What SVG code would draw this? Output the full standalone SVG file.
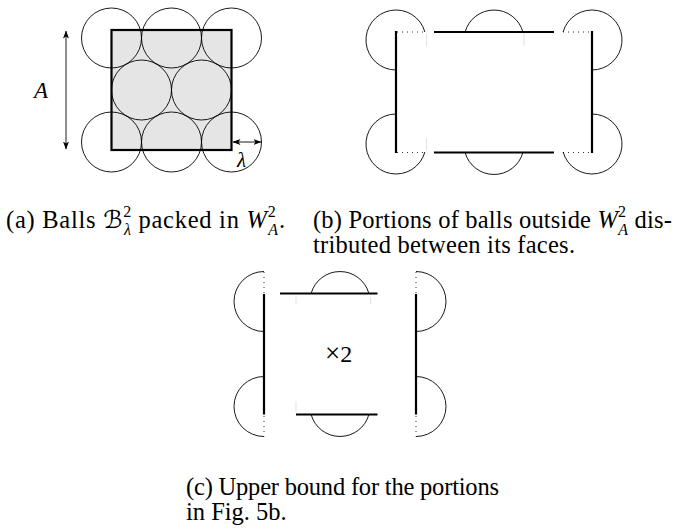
<svg xmlns="http://www.w3.org/2000/svg" width="674" height="529" viewBox="0 0 674 529">
<style>
.c{fill:none;stroke:#000;stroke-width:0.9}
.t{fill:none;stroke:#000;stroke-width:2.2}
.d{fill:none;stroke:#000;stroke-width:0.8;stroke-dasharray:1 4}
.f{fill:none;stroke:#d6d6d6;stroke-width:0.7}
.a{fill:none;stroke:#000;stroke-width:0.9}
.cap{font-family:"Liberation Serif",serif;font-size:24.5px;fill:#000}
.mi{font-family:"Liberation Serif",serif;font-style:italic}
.cal{font-family:"DejaVu Serif","DejaVu Sans",serif;font-style:normal}
.sc{font-size:16px}
</style>
<defs>
<marker id="ah" viewBox="0 0 8 6" refX="7.5" refY="3" markerWidth="8" markerHeight="6" markerUnits="userSpaceOnUse" orient="auto-start-reverse">
<path d="M0,0 L8,3 L0,6 L2,3 Z" fill="#000"/>
</marker>
</defs>

<g id="panel-a">
<rect x="111.5" y="30" width="120" height="120" fill="#e5e5e5"/>
<circle class="c" cx="111.5" cy="38" r="30"/>
<circle class="c" cx="171.5" cy="38" r="30"/>
<circle class="c" cx="231.5" cy="38" r="30"/>
<circle class="c" cx="141.5" cy="90" r="30"/>
<circle class="c" cx="201.5" cy="90" r="30"/>
<circle class="c" cx="111.5" cy="142" r="30"/>
<circle class="c" cx="171.5" cy="142" r="30"/>
<circle class="c" cx="231.5" cy="142" r="30"/>
<rect class="t" x="111.5" y="30" width="120" height="120"/>
<text x="34" y="98" class="mi" font-size="23">A</text>
<text x="237" y="167" class="mi" font-size="21">λ</text>
</g>

<g id="panel-b">
<line class="t" x1="396" y1="31" x2="396" y2="153"/>
<line class="t" x1="592" y1="31" x2="592" y2="153"/>
<line class="t" x1="434" y1="32" x2="554" y2="32"/>
<line class="t" x1="434" y1="152.5" x2="554" y2="152.5"/>
<line class="d" x1="397" y1="32" x2="425" y2="32"/>
<line class="d" x1="563" y1="32" x2="591" y2="32"/>
<line class="d" x1="397" y1="152.5" x2="425" y2="152.5"/>
<line class="d" x1="563" y1="152.5" x2="591" y2="152.5"/>
<path class="c" d="M396,70 A30,30 0 1 1 424.9,32"/>
<path class="c" d="M396,114 A30,30 0 1 0 424.9,152"/>
<path class="c" d="M563.1,32 A30,30 0 1 1 592,70"/>
<path class="c" d="M592,114 A30,30 0 1 1 563.1,152"/>
<path class="c" d="M465.1,32 A30,30 0 0 1 522.9,32"/>
<path class="c" d="M465.1,152.5 A30,30 0 0 0 522.9,152.5"/>
<line class="f" x1="426.5" y1="33" x2="426.5" y2="47"/>
<line class="f" x1="524" y1="33" x2="524" y2="46"/>
<line class="f" x1="426.5" y1="138" x2="426.5" y2="151"/>
</g>

<g id="panel-c">
<line class="t" x1="264" y1="294" x2="264" y2="414.5"/>
<line class="t" x1="416" y1="294" x2="416" y2="414.5"/>
<line class="t" x1="280" y1="293.5" x2="377.5" y2="293.5"/>
<line class="t" x1="296" y1="414.5" x2="377.5" y2="414.5"/>
<line class="d" x1="264" y1="272" x2="264" y2="293"/>
<line class="d" x1="264" y1="416" x2="264" y2="436.5"/>
<line class="d" x1="416" y1="272" x2="416" y2="293"/>
<line class="d" x1="416" y1="416" x2="416" y2="436.5"/>
<path class="c" d="M264,271.5 A30,30 0 0 0 264,331.5"/>
<path class="c" d="M264,376.5 A30,30 0 0 0 264,436.5"/>
<path class="c" d="M416,271.5 A30,30 0 0 1 416,331.5"/>
<path class="c" d="M416,376.5 A30,30 0 0 1 416,436.5"/>
<path class="c" d="M311.1,293.5 A30,30 0 0 1 368.9,293.5"/>
<path class="c" d="M311.1,414.5 A30,30 0 0 0 368.9,414.5"/>
<line class="f" x1="296" y1="297" x2="296" y2="304"/>
<line class="f" x1="370.7" y1="297" x2="370.7" y2="304"/>
<line class="f" x1="296" y1="401.5" x2="296" y2="412"/>
<text x="325" y="362" font-family="Liberation Serif, serif" font-size="24"><tspan font-size="27">×</tspan>2</text>
</g>

<g id="connectors">
<line class="a" x1="66" y1="31" x2="66" y2="149" marker-start="url(#ah)" marker-end="url(#ah)"/>
<line class="a" x1="233" y1="142" x2="261" y2="142" marker-start="url(#ah)" marker-end="url(#ah)"/>
</g>

<g id="captions">
<text x="6" y="228" class="cap" textLength="279" lengthAdjust="spacing">(a) Balls <tspan class="cal">ℬ</tspan><tspan class="sc" dy="-11">2</tspan><tspan class="sc mi" dx="-8" dy="18">λ</tspan><tspan dy="-7"> packed in </tspan><tspan class="mi">W</tspan><tspan class="sc" dy="-11">2</tspan><tspan class="sc mi" dx="-8" dy="18">A</tspan><tspan dy="-7">.</tspan></text>
<text x="313" y="228" class="cap" textLength="359" lengthAdjust="spacing">(b) Portions of balls outside <tspan class="mi">W</tspan><tspan class="sc" dy="-11">2</tspan><tspan class="sc mi" dx="-8" dy="18">A</tspan><tspan dy="-7"> dis-</tspan></text>
<text x="313" y="253" class="cap" textLength="262" lengthAdjust="spacing">tributed between its faces.</text>
<text x="186" y="495" class="cap" textLength="313" lengthAdjust="spacing">(c) Upper bound for the portions</text>
<text x="186" y="520" class="cap">in Fig. 5b.</text>
</g>
</svg>
